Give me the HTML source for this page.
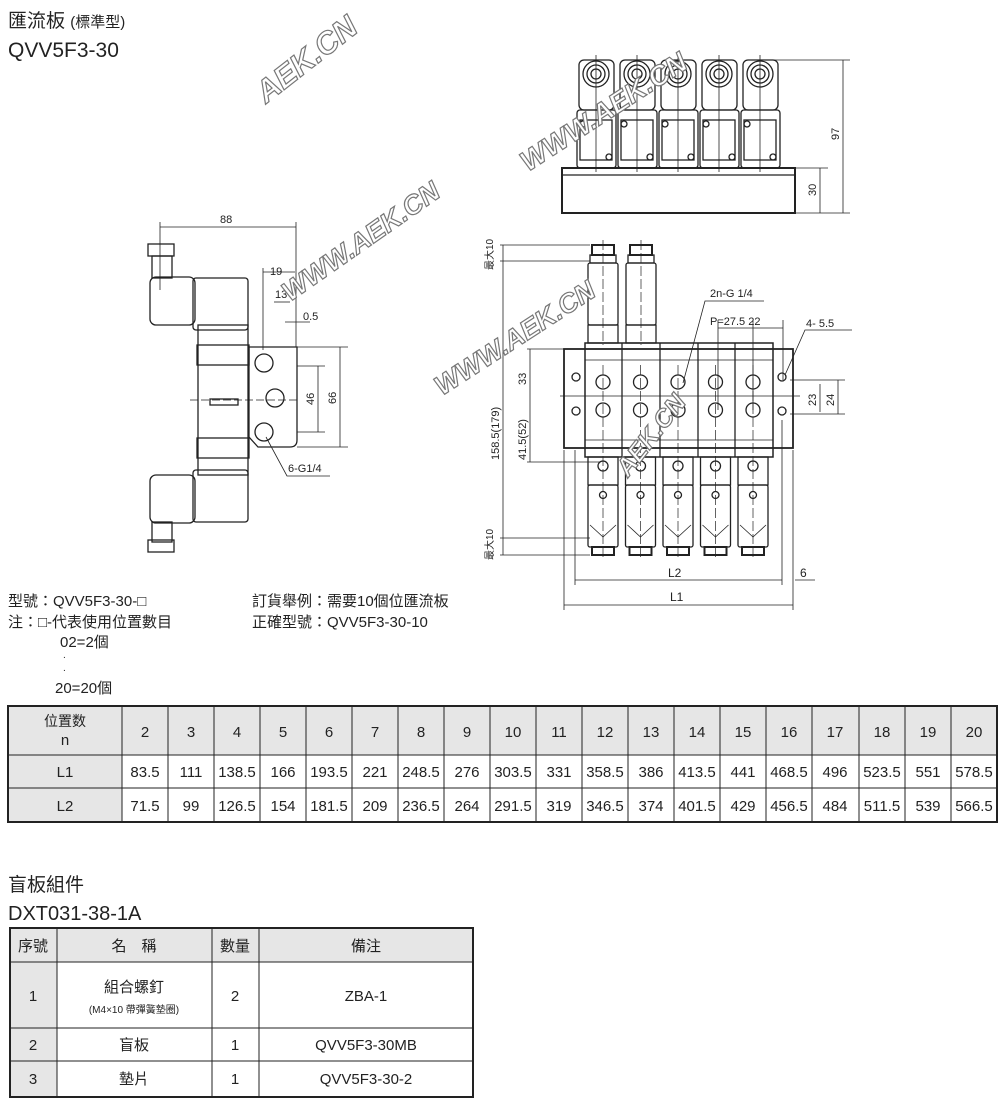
<!DOCTYPE html>
<html><head><meta charset="utf-8"><style>
html,body{margin:0;padding:0;background:#fff;}
svg{display:block;}
text{font-family:"Liberation Sans","Noto Sans CJK TC",sans-serif;fill:#222;}
.wm{font-family:"Liberation Sans",sans-serif;font-weight:bold;font-style:italic;fill:#fff;stroke:#777;stroke-width:1.2;}
</style></head><body>
<svg width="1000" height="1102" viewBox="0 0 1000 1102" xmlns="http://www.w3.org/2000/svg">
<!-- Titles -->
<text x="8" y="27" font-size="19">匯流板 <tspan font-size="15">(標準型)</tspan></text>
<text x="8" y="57" font-size="21">QVV5F3-30</text>

<!-- TOP VIEW -->
<g fill="none" stroke="#222" stroke-width="1.3">
<rect x="562" y="168" width="233" height="45" stroke-width="2"/>
<line x1="562" y1="175" x2="795" y2="175"/>
<g id="tc">
<rect x="579" y="60" width="35" height="50" rx="5"/>
<circle cx="596" cy="74" r="13"/><circle cx="596" cy="74" r="9"/><circle cx="596" cy="74" r="5"/>
<rect x="577" y="110" width="39" height="58" rx="3"/>
<rect x="580" y="120" width="32" height="40"/>
<circle cx="583" cy="124" r="3"/><circle cx="609" cy="157" r="3"/>
<line x1="596" y1="55" x2="596" y2="172" stroke-width="0.8"/>
</g>
<use href="#tc" x="41"/><use href="#tc" x="82"/><use href="#tc" x="123"/><use href="#tc" x="164"/>
<line x1="760" y1="60" x2="850" y2="60" stroke-width="0.8"/>
<line x1="795" y1="213" x2="850" y2="213" stroke-width="0.8"/>
<line x1="795" y1="168" x2="828" y2="168" stroke-width="0.8"/>
<line x1="843" y1="60" x2="843" y2="213" stroke-width="0.8"/>
<line x1="820" y1="168" x2="820" y2="213" stroke-width="0.8"/>
</g>
<text font-size="11" transform="translate(839,140) rotate(-90)">97</text>
<text font-size="11" transform="translate(816,196) rotate(-90)">30</text>

<!-- SIDE VIEW -->
<g fill="none" stroke="#222" stroke-width="1.3">
<rect x="150" y="277" width="45" height="48" rx="6"/>
<rect x="193" y="278" width="55" height="52" rx="3"/>
<rect x="148" y="244" width="26" height="12"/><rect x="152" y="256" width="20" height="22"/>
<rect x="198" y="325" width="50" height="150"/>
<rect x="197" y="345" width="52" height="20"/><rect x="197" y="438" width="52" height="20"/>
<path d="M249 347 H297 V440 Q297 447 290 447 H258 L249 437 Z"/>
<circle cx="264" cy="363" r="9"/><circle cx="275" cy="398" r="9"/><circle cx="264" cy="432" r="9"/>
<rect x="150" y="475" width="45" height="48" rx="6"/>
<rect x="193" y="470" width="55" height="52" rx="3"/>
<rect x="152" y="522" width="20" height="20"/><rect x="148" y="540" width="26" height="12"/>
<rect x="210" y="399" width="28" height="6"/>
<line x1="190" y1="400" x2="300" y2="400" stroke-width="0.8" stroke-dasharray="8 3"/>
<line x1="160" y1="227" x2="296" y2="227" stroke-width="0.8"/>
<line x1="160" y1="222" x2="160" y2="290" stroke-width="0.8"/>
<line x1="296" y1="222" x2="296" y2="347" stroke-width="0.8"/>
<line x1="263" y1="272" x2="295" y2="272" stroke-width="0.8"/>
<line x1="263" y1="268" x2="263" y2="350" stroke-width="0.8"/>
<line x1="274" y1="302" x2="290" y2="302" stroke-width="0.8"/>
<line x1="285" y1="322" x2="310" y2="322" stroke-width="0.8"/>
<line x1="297" y1="347" x2="348" y2="347" stroke-width="0.8"/>
<line x1="297" y1="447" x2="348" y2="447" stroke-width="0.8"/>
<line x1="297" y1="366" x2="325" y2="366" stroke-width="0.8"/>
<line x1="297" y1="432" x2="325" y2="432" stroke-width="0.8"/>
<line x1="340" y1="347" x2="340" y2="447" stroke-width="0.8"/>
<line x1="318" y1="366" x2="318" y2="432" stroke-width="0.8"/>
<path d="M266 437 L287 476 H330" stroke-width="0.8"/>
</g>
<text x="220" y="223" font-size="11">88</text>
<text x="270" y="275" font-size="11">19</text>
<text x="275" y="298" font-size="11">13</text>
<text x="303" y="320" font-size="11">0.5</text>
<text font-size="11" transform="translate(336,404) rotate(-90)">66</text>
<text font-size="11" transform="translate(314,405) rotate(-90)">46</text>
<text x="288" y="472" font-size="11">6-G1/4</text>

<!-- FRONT VIEW -->
<g fill="none" stroke="#222" stroke-width="1.3">
<rect x="564" y="349" width="229" height="99" stroke-width="1.8"/>
<rect x="585" y="343" width="188" height="114" stroke-width="1.5"/>
<line x1="622" y1="343" x2="622" y2="457"/><line x1="660" y1="343" x2="660" y2="457"/>
<line x1="698" y1="343" x2="698" y2="457"/><line x1="735" y1="343" x2="735" y2="457"/>
<line x1="585" y1="360" x2="773" y2="360" stroke-width="0.8"/><line x1="585" y1="440" x2="773" y2="440" stroke-width="0.8"/>
<circle cx="576" cy="377" r="4"/><circle cx="576" cy="411" r="4"/>
<circle cx="782" cy="377" r="4"/><circle cx="782" cy="411" r="4"/>
<g id="fp">
<circle cx="603" cy="382" r="7"/><circle cx="603" cy="410" r="7"/>
<line x1="603" y1="365" x2="603" y2="560" stroke-width="0.7" stroke-dasharray="10 3"/>
<rect x="588" y="457" width="30" height="28"/><circle cx="603" cy="466" r="5"/>
<rect x="588" y="485" width="30" height="62" rx="2"/>
<path d="M590 525 L603 537 L616 525" stroke-width="0.8"/><circle cx="603" cy="495" r="3.5"/>
<rect x="592" y="547" width="22" height="8" stroke-width="2"/>
</g>
<use href="#fp" x="37.5"/><use href="#fp" x="75"/><use href="#fp" x="112.5"/><use href="#fp" x="150"/>
<rect x="588" y="263" width="30" height="62" rx="2"/><rect x="588" y="325" width="30" height="18"/>
<rect x="592" y="245" width="22" height="10" stroke-width="2"/><rect x="590" y="255" width="26" height="8"/>
<rect x="626" y="263" width="30" height="62" rx="2"/><rect x="626" y="325" width="30" height="18"/>
<rect x="630" y="245" width="22" height="10" stroke-width="2"/><rect x="628" y="255" width="26" height="8"/>
<line x1="603" y1="240" x2="603" y2="345" stroke-width="0.7" stroke-dasharray="10 3"/>
<line x1="641" y1="240" x2="641" y2="345" stroke-width="0.7" stroke-dasharray="10 3"/>
<line x1="560" y1="396" x2="800" y2="396" stroke-width="0.8"/>
<line x1="500" y1="245" x2="590" y2="245" stroke-width="0.8"/>
<line x1="500" y1="261" x2="590" y2="261" stroke-width="0.8"/>
<line x1="500" y1="538" x2="590" y2="538" stroke-width="0.8"/>
<line x1="500" y1="555" x2="590" y2="555" stroke-width="0.8"/>
<line x1="503" y1="245" x2="503" y2="555" stroke-width="0.8"/>
<line x1="527" y1="349" x2="585" y2="349" stroke-width="0.8"/>
<line x1="527" y1="462" x2="600" y2="462" stroke-width="0.8"/>
<line x1="530" y1="349" x2="530" y2="462" stroke-width="0.8"/>
<line x1="575" y1="450" x2="575" y2="585" stroke-width="0.8"/>
<line x1="782" y1="420" x2="782" y2="585" stroke-width="0.8"/>
<line x1="564" y1="450" x2="564" y2="610" stroke-width="0.8"/>
<line x1="793" y1="450" x2="793" y2="610" stroke-width="0.8"/>
<line x1="575" y1="580" x2="782" y2="580" stroke-width="0.8"/>
<line x1="795" y1="580" x2="815" y2="580" stroke-width="0.8"/>
<line x1="564" y1="605" x2="793" y2="605" stroke-width="0.8"/>
<line x1="718" y1="328" x2="783" y2="328" stroke-width="0.8"/>
<line x1="718" y1="320" x2="718" y2="410" stroke-width="0.8"/>
<line x1="753" y1="320" x2="753" y2="410" stroke-width="0.8"/>
<line x1="783" y1="320" x2="783" y2="380" stroke-width="0.8"/>
<path d="M683 383 L705 301 H764" stroke-width="0.8"/>
<path d="M785 375 L805 330 H852" stroke-width="0.8"/>
<line x1="790" y1="380" x2="845" y2="380" stroke-width="0.8"/>
<line x1="790" y1="414" x2="845" y2="414" stroke-width="0.8"/>
<line x1="820" y1="384" x2="820" y2="412" stroke-width="0.8"/>
<line x1="838" y1="380" x2="838" y2="414" stroke-width="0.8"/>
</g>
<text font-size="10" transform="translate(493,270) rotate(-90)">最大10</text>
<text font-size="10" transform="translate(493,560) rotate(-90)">最大10</text>
<text font-size="11" transform="translate(499,460) rotate(-90)">158.5(179)</text>
<text font-size="11" transform="translate(526,385) rotate(-90)">33</text>
<text font-size="11" transform="translate(526,460) rotate(-90)">41.5(52)</text>
<text x="710" y="297" font-size="11">2n-G 1/4</text>
<text x="710" y="325" font-size="11">P=27.5  22</text>
<text x="806" y="327" font-size="11">4-   5.5</text>
<text font-size="11" transform="translate(816,406) rotate(-90)">23</text>
<text font-size="11" transform="translate(834,406) rotate(-90)">24</text>
<text x="668" y="577" font-size="12">L2</text>
<text x="800" y="577" font-size="12">6</text>
<text x="670" y="601" font-size="12">L1</text>

<!-- Watermarks -->
<text class="wm" font-size="31" transform="translate(266,104) rotate(-38)">AEK.CN</text>
<text class="wm" font-size="28" transform="translate(528,172) rotate(-33)">WWW.AEK.CN</text>
<text class="wm" font-size="27" transform="translate(290,302) rotate(-35)">WWW.AEK.CN</text>
<text class="wm" font-size="27" transform="translate(442,396) rotate(-33)">WWW.AEK.CN</text>
<text class="wm" font-size="25" transform="translate(628,478) rotate(-52)">AEK.CN</text>

<!-- notes -->
<g font-size="15">
<text x="8" y="606">型號：QVV5F3-30-□</text>
<text x="8" y="627">注：□-代表使用位置數目</text>
<text x="60" y="647">02=2個</text>
<text x="63" y="658" font-size="10">.</text>
<text x="63" y="671" font-size="10">.</text>
<text x="55" y="693">20=20個</text>
<text x="252" y="606">訂貨舉例：需要10個位匯流板</text>
<text x="252" y="627">正確型號：QVV5F3-30-10</text>
</g>

<!-- Table 1 -->
<rect x="8" y="706" width="989" height="49" fill="#e6e6e6"/>
<rect x="8" y="755" width="114" height="67" fill="#e6e6e6"/>
<g stroke="#222" fill="none">
<rect x="8" y="706" width="989" height="116" stroke-width="2"/>
<line x1="8" y1="755" x2="997" y2="755"/><line x1="8" y1="788" x2="997" y2="788"/>
<line x1="122" y1="706" x2="122" y2="822"/><line x1="168" y1="706" x2="168" y2="822"/><line x1="214" y1="706" x2="214" y2="822"/><line x1="260" y1="706" x2="260" y2="822"/><line x1="306" y1="706" x2="306" y2="822"/><line x1="352" y1="706" x2="352" y2="822"/><line x1="398" y1="706" x2="398" y2="822"/><line x1="444" y1="706" x2="444" y2="822"/><line x1="490" y1="706" x2="490" y2="822"/><line x1="536" y1="706" x2="536" y2="822"/><line x1="582" y1="706" x2="582" y2="822"/><line x1="628" y1="706" x2="628" y2="822"/><line x1="674" y1="706" x2="674" y2="822"/><line x1="720" y1="706" x2="720" y2="822"/><line x1="766" y1="706" x2="766" y2="822"/><line x1="812" y1="706" x2="812" y2="822"/><line x1="859" y1="706" x2="859" y2="822"/><line x1="905" y1="706" x2="905" y2="822"/><line x1="951" y1="706" x2="951" y2="822"/>
</g>
<g font-size="15" text-anchor="middle">
<text x="65" y="726" font-size="14">位置数</text><text x="65" y="745">n</text>
<text x="65" y="777">L1</text><text x="65" y="811">L2</text>
<text x="145" y="737">2</text><text x="191" y="737">3</text><text x="237" y="737">4</text><text x="283" y="737">5</text><text x="329" y="737">6</text><text x="375" y="737">7</text><text x="421" y="737">8</text><text x="467" y="737">9</text><text x="513" y="737">10</text><text x="559" y="737">11</text><text x="605" y="737">12</text><text x="651" y="737">13</text><text x="697" y="737">14</text><text x="743" y="737">15</text><text x="789" y="737">16</text><text x="835" y="737">17</text><text x="882" y="737">18</text><text x="928" y="737">19</text><text x="974" y="737">20</text>
<text x="145" y="777">83.5</text><text x="191" y="777">111</text><text x="237" y="777">138.5</text><text x="283" y="777">166</text><text x="329" y="777">193.5</text><text x="375" y="777">221</text><text x="421" y="777">248.5</text><text x="467" y="777">276</text><text x="513" y="777">303.5</text><text x="559" y="777">331</text><text x="605" y="777">358.5</text><text x="651" y="777">386</text><text x="697" y="777">413.5</text><text x="743" y="777">441</text><text x="789" y="777">468.5</text><text x="835" y="777">496</text><text x="882" y="777">523.5</text><text x="928" y="777">551</text><text x="974" y="777">578.5</text>
<text x="145" y="811">71.5</text><text x="191" y="811">99</text><text x="237" y="811">126.5</text><text x="283" y="811">154</text><text x="329" y="811">181.5</text><text x="375" y="811">209</text><text x="421" y="811">236.5</text><text x="467" y="811">264</text><text x="513" y="811">291.5</text><text x="559" y="811">319</text><text x="605" y="811">346.5</text><text x="651" y="811">374</text><text x="697" y="811">401.5</text><text x="743" y="811">429</text><text x="789" y="811">456.5</text><text x="835" y="811">484</text><text x="882" y="811">511.5</text><text x="928" y="811">539</text><text x="974" y="811">566.5</text>
</g>

<!-- Table 2 -->
<text x="8" y="891" font-size="19">盲板組件</text>
<text x="8" y="920" font-size="20">DXT031-38-1A</text>
<rect x="10" y="928" width="463" height="34" fill="#e6e6e6"/>
<rect x="10" y="962" width="47" height="135" fill="#e6e6e6"/>
<g stroke="#222" fill="none">
<rect x="10" y="928" width="463" height="169" stroke-width="2"/>
<line x1="10" y1="962" x2="473" y2="962"/><line x1="10" y1="1028" x2="473" y2="1028"/><line x1="10" y1="1061" x2="473" y2="1061"/>
<line x1="57" y1="928" x2="57" y2="1097"/><line x1="212" y1="928" x2="212" y2="1097"/><line x1="259" y1="928" x2="259" y2="1097"/>
</g>
<g text-anchor="middle" font-size="15">
<text x="33" y="951">序號</text><text x="134" y="951">名　稱</text><text x="235" y="951">數量</text><text x="366" y="951">備注</text>
<text x="33" y="1001">1</text><text x="134" y="992">組合螺釘</text><text x="134" y="1013" font-size="10">(M4×10 帶彈簧墊圈)</text><text x="235" y="1001">2</text><text x="366" y="1001">ZBA-1</text>
<text x="33" y="1050">2</text><text x="134" y="1050">盲板</text><text x="235" y="1050">1</text><text x="366" y="1050">QVV5F3-30MB</text>
<text x="33" y="1084">3</text><text x="134" y="1084">墊片</text><text x="235" y="1084">1</text><text x="366" y="1084">QVV5F3-30-2</text>
</g>
</svg>
</body></html>
